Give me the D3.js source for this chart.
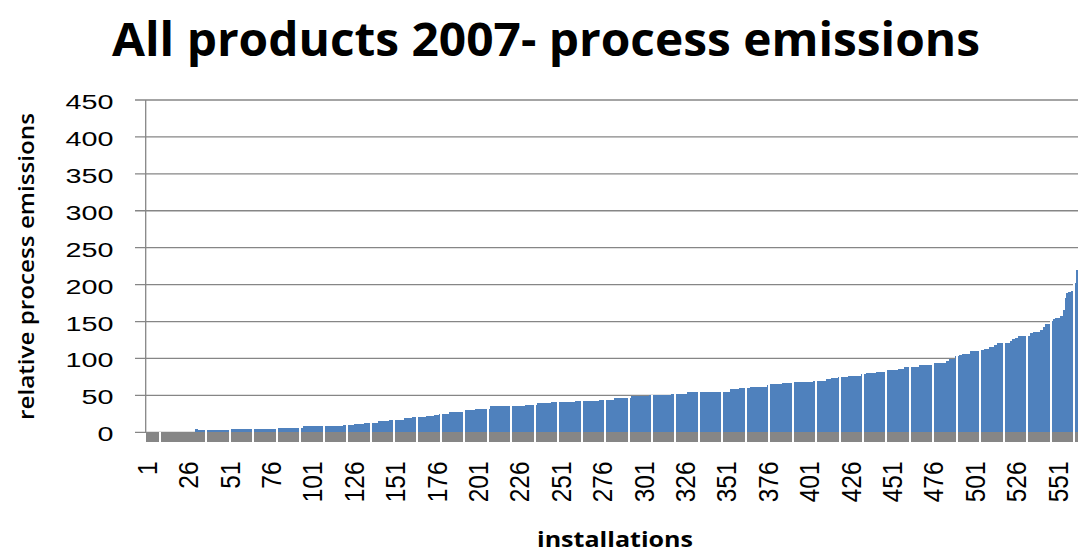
<!DOCTYPE html>
<html>
<head>
<meta charset="utf-8">
<script src="https://cdn.jsdelivr.net/npm/d3@7"></script>
<style>
  html, body { margin: 0; padding: 0; background: #fff; }
  svg { display: block; }
</style>
</head>
<body>
<svg id="chart" width="1078" height="552"></svg>
<script>
// ---- data ----
const chartTitle = "All products 2007- process emissions";
const yAxisTitle = "relative process emissions";
const xAxisTitle = "installations";
const yTicks = [0, 50, 100, 150, 200, 250, 300, 350, 400, 450];
const tickLabels = ["1","26","51","76","101","126","151","176","201","226","251","276","301","326","351","376","401","426","451","476","501","526","551"];
// relative process emissions per installation, sorted ascending
const values = [
  0,0,0,0,0,0,0,0,0,0,
  0,0,0,0,0,0,0,0,0,0,
  0,0,0,0,0,0,0,0,0,0,
  4,3,3,3,3,3,3,3,3,3,
  3,3,3,3,3,3,3,3,3,3,
  3,
  5,5,5,5,5,5,5,5,5,5,
  5,5,5,5,5,5,5,5,5,5,
  5,5,5,5,5,5,5,5,
  6,6,6,6,6,6,6,6,6,6,
  6,6,6,6,6,6,
  9,9,9,9,9,9,9,9,9,9,
  9,9,9,9,9,9,9,9,9,9,
  9,9,9,9,
  10,10,10,10,10,10,10,
  11,11,11,11,11,11,
  13,13,13,13,13,13,13,13,
  15,15,15,15,15,15,15,
  17,17,17,17,17,17,17,17,17,
  19,19,19,19,19,
  21,21,21,21,21,21,21,21,
  22,22,22,22,22,
  24,24,24,
  25,25,25,25,25,25,
  27,27,27,27,27,27,27,27,27,
  30,30,30,30,30,30,30,
  32,32,32,32,32,32,32,32,32,
  35,35,35,35,35,35,35,35,35,35,
  36,36,36,36,36,36,36,36,36,36,36,
  37,37,37,37,37,37,37,
  40,40,40,40,40,40,40,40,40,
  41,41,41,41,41,41,41,41,41,41,41,41,41,41,
  43,43,43,43,43,43,43,43,43,43,43,43,43,43,43,
  44,44,44,44,44,44,44,44,44,
  47,47,47,47,47,47,47,47,47,47,
  49,49,49,49,49,49,49,49,49,49,49,
  50,50,50,50,50,50,50,50,50,50,50,50,50,
  52,52,52,52,52,52,52,52,52,52,
  54,54,54,54,54,54,54,54,54,54,54,
  55,55,55,55,55,55,55,55,55,55,55,55,55,55,55,
  59,59,59,59,59,
  60,60,60,60,60,60,60,
  62,62,62,62,62,62,62,62,62,62,
  64,64,65,65,65,65,65,65,65,
  67,67,67,67,67,67,
  68,68,68,68,68,68,68,68,68,68,68,68,68,
  69,69,69,69,69,69,69,69,
  72,72,72,
  74,74,74,74,
  75,75,75,75,75,75,
  76,76,76,76,76,76,76,76,
  79,79,79,
  80,80,80,80,80,80,
  82,82,82,82,82,82,
  85,85,85,85,85,85,85,
  86,86,86,86,
  88,88,88,88,88,88,88,88,88,
  91,91,91,91,91,91,91,91,
  94,94,94,94,94,94,94,94,
  97,97,
  99,99,99,99,
  103,103,
  105,105,
  106,106,106,106,106,
  110,110,110,110,110,
  111,111,111,
  113,113,113,
  115,115,115,
  118,118,
  121,121,121,121,121,121,121,121,
  124,126,126,128,128,130,130,130,130,131,131,131,
  134,134,136,136,136,136,139,139,143,147,147,147,
  151,151,154,155,155,155,158,158,165,182,189,190,190,192,197,202,220
];
const floorDepth = -13.5; // grey base strip under the bars

// ---- layout ----
const svg = d3.select("#chart");
const plotLeft = 145.7, plotRight = 1078, plotTop = 100, plotBottom = 432.3;

const x = d3.scaleBand()
  .domain(d3.range(values.length))
  .range([plotLeft, plotRight])
  .paddingInner(0).paddingOuter(0);

const y = d3.scaleLinear().domain([0, 450]).range([plotBottom, plotTop]);

const gridColor = "#868686";
const step = x.step();

// gridlines + outward ticks
svg.append("g").selectAll("line")
  .data(yTicks).join("line")
  .attr("x1", 135).attr("x2", plotRight)
  .attr("y1", d => y(d)).attr("y2", d => y(d))
  .attr("stroke", gridColor).attr("stroke-width", 1.3);

// bars (contiguous)
svg.append("g").attr("shape-rendering", "crispEdges")
  .selectAll("rect").data(values).join("rect")
  .attr("x", (d, i) => x(i))
  .attr("width", step + 0.6)
  .attr("y", d => y(d))
  .attr("height", d => y(0) - y(d))
  .attr("fill", "#4f81bd");

// grey base strip
svg.append("g").attr("shape-rendering", "crispEdges")
  .selectAll("rect").data(values).join("rect")
  .attr("x", (d, i) => x(i))
  .attr("width", step + 0.6)
  .attr("y", y(0) + 0.7)
  .attr("height", y(floorDepth) - y(0) - 0.7)
  .attr("fill", "#868686");

// periodic white seams seen in the reference rendering
const seamX = d3.range(0, 40).filter(k => k !== 1).map(k => 159.5 + 23.45 * k).filter(g => g < plotRight - 1);
svg.append("g").attr("shape-rendering", "crispEdges")
  .selectAll("rect").data(seamX).join("rect")
  .attr("x", g => g - 1)
  .attr("width", 2)
  .attr("y", g => {
    const i = Math.min(values.length - 1, Math.floor((g + 1 - plotLeft) / step));
    return Math.min(y(values[i]), y(0));
  })
  .attr("height", g => {
    const i = Math.min(values.length - 1, Math.floor((g + 1 - plotLeft) / step));
    return y(floorDepth) - Math.min(y(values[i]), y(0)) + 1;
  })
  .attr("fill", "#fff");

// y axis line
svg.append("line")
  .attr("x1", plotLeft).attr("x2", plotLeft)
  .attr("y1", plotTop).attr("y2", plotBottom)
  .attr("stroke", gridColor).attr("stroke-width", 1.3);

// y tick labels
svg.append("g").selectAll("text")
  .data(yTicks).join("text")
  .attr("x", 113.5)
  .attr("y", d => y(d) + 9)
  .attr("text-anchor", "end")
  .attr("font-family", "Liberation Sans, Arial, sans-serif")
  .attr("font-size", 19.5)
  .attr("textLength", d => String(d).length * 16)
  .attr("lengthAdjust", "spacingAndGlyphs")
  .attr("fill", "#000")
  .text(d => d);

// x tick labels (rotated)
svg.append("g").selectAll("text")
  .data(tickLabels).join("text")
  .attr("transform", d => {
    const cx = x(+d - 1) + x.bandwidth() / 2 + 10.2;
    return `translate(${cx},461.5) rotate(-90)`;
  })
  .attr("text-anchor", "end")
  .attr("font-family", "Liberation Sans, Arial, sans-serif")
  .attr("font-size", 28.5)
  .attr("textLength", d => d.length * 13.6)
  .attr("lengthAdjust", "spacingAndGlyphs")
  .attr("fill", "#000")
  .text(d => d);

// chart title
svg.append("text")
  .attr("x", 112).attr("y", 56)
  .attr("font-family", "Open Sans, sans-serif")
  .attr("font-weight", "bold")
  .attr("font-size", 46)
  .attr("textLength", 868)
  .attr("lengthAdjust", "spacingAndGlyphs")
  .attr("fill", "#000")
  .text(chartTitle);

// y axis title
svg.append("text")
  .attr("transform", "translate(34,266.5) rotate(-90)")
  .attr("text-anchor", "middle")
  .attr("font-family", "Open Sans, sans-serif")
  .attr("font-weight", 600)
  .attr("font-size", 21.5)
  .attr("textLength", 307)
  .attr("lengthAdjust", "spacingAndGlyphs")
  .attr("fill", "#000")
  .text(yAxisTitle);

// x axis title
svg.append("text")
  .attr("x", 615).attr("y", 546.5)
  .attr("text-anchor", "middle")
  .attr("font-family", "Open Sans, sans-serif")
  .attr("font-weight", "bold")
  .attr("font-size", 21)
  .attr("textLength", 156)
  .attr("lengthAdjust", "spacingAndGlyphs")
  .attr("fill", "#000")
  .text(xAxisTitle);
</script>
</body>
</html>
